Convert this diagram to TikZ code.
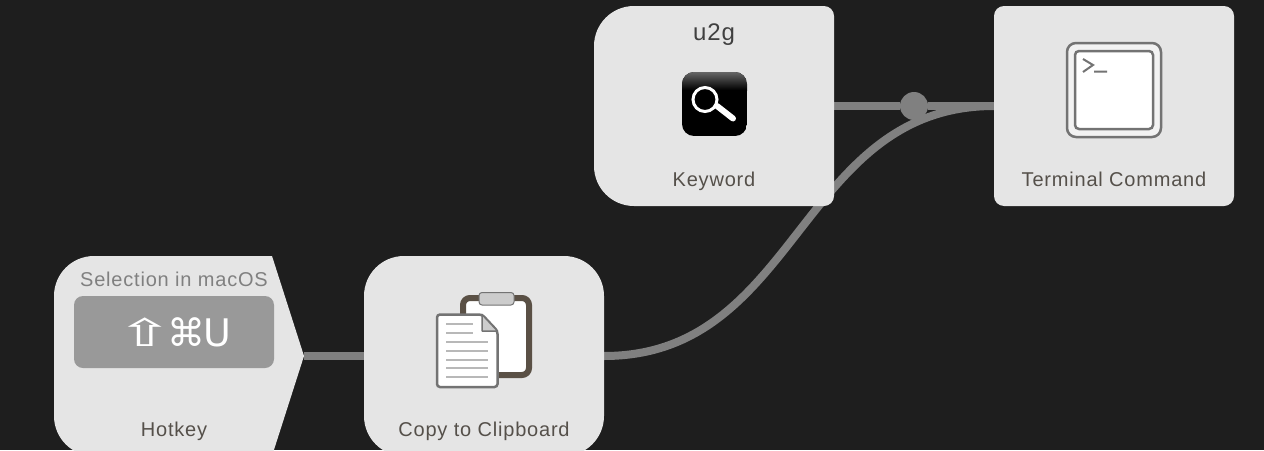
\documentclass[tikz,border=0pt]{standalone}
\usepackage{fontspec}
\setmainfont[LetterSpace=4]{Liberation Sans}
\newfontfamily\keyfont{DejaVu Sans}
\usetikzlibrary{positioning}
\definecolor{canvas}{HTML}{1E1E1E}
\definecolor{cardgray}{HTML}{E5E5E5}
\definecolor{wire}{HTML}{808080}
\definecolor{labeltext}{HTML}{55504A}
\definecolor{boardbrown}{HTML}{5A5045}
\tikzstyle{card} = [rectangle, minimum width=240pt, minimum height=200pt, inner sep=0pt, outer sep=0pt]
\tikzstyle{label} = [text=labeltext, anchor=base, font=\fontsize{20}{24}\selectfont]
\tikzstyle{wireline} = [wire, line width=8pt]
\tikzstyle{textline} = [line width=2pt, black!28]

\begin{document}
\begin{tikzpicture}[x=1pt, y=-1pt]
    \useasboundingbox (0,0) rectangle (1264,450);
    \fill [canvas] (0,0) rectangle (1264,450);
    \clip (0,0) rectangle (1264,450);

    \node (hotkey) [card, minimum width=250pt] at (179,356) {};
    \node (clipboard) [card] at (484,356) {};
    \node (keyword) [card] at (714,106) {};
    \node (terminal) [card] at (1114,106) {};
    \node (junction) [circle, fill=wire, minimum size=28pt, inner sep=0pt] at (914,106) {};

    % Verbindungen
    \draw [wireline] (hotkey.east) -- (clipboard.west);
    \draw [wireline] (keyword.east) -- (junction) -- (terminal.west);
    \draw [wireline] (clipboard.east) .. controls (799,356) and (799,106) .. (terminal.west);

    % Karten
    \fill [cardgray, rounded corners=40pt] (54,356) -- (hotkey.north west) [sharp corners] -- (272,256) -- (hotkey.east) -- (272,456) [rounded corners=40pt] -- (hotkey.south west) -- cycle;
    \fill [cardgray, rounded corners=40pt] (clipboard.north west) rectangle (clipboard.south east);
    \fill [cardgray, rounded corners=40pt] (714,6) -- (keyword.north west) -- (keyword.south west) [rounded corners=10pt] -- (keyword.south east) -- (keyword.north east) -- cycle;
    \fill [cardgray, rounded corners=10pt] (terminal.north west) rectangle (terminal.south east);

    % Hotkey
    \node (selection) [label, text=wire] at (174,286) {Selection in macOS};
    \node (keycap) [rectangle, rounded corners=9pt, fill=black!40, minimum width=200pt, minimum height=72pt, inner sep=0pt, text=white, font=\keyfont\fontsize{38}{44}\selectfont] at (174,332) {\scalebox{1.8}[1]{⇧}\kern-7pt⌘\kern-2ptU};
    \node (hotkeytext) [label] at (174,436) {Hotkey};

    % Clipboard
    \draw [boardbrown, fill=white, line width=6pt, rounded corners=7pt] (463,298) rectangle (529,375);
    \draw [black!55, fill=black!20, line width=1pt, rounded corners=3pt] (479,292.5) rectangle (514,305);
    \draw [black!55, fill=white, line width=2.5pt, rounded corners=3pt] (437,314.5) -- (482,314.5) -- (497.5,331) -- (497.5,387) -- (437,387) -- cycle;
    \draw [black!55, fill=black!20, line width=1.5pt, line join=round] (482,314.5) -- (482,331) -- (497.5,331) -- cycle;
    \foreach \y in {323.5,332.7} \draw [textline] (446,\y) -- (473,\y);
    \foreach \y in {341.7,350.7,359.5,368.3,377.3} \draw [textline] (446,\y) -- (488,\y);
    \node (copytext) [label] at (484,436) {Copy to Clipboard};

    % Keyword
    \node (title) [label, text=black!75, font=\fontsize{24}{28}\selectfont] at (714,40) {u2g};
    \begin{scope}
        \clip [rounded corners=12pt] (682,72) rectangle (747,136);
        \fill [black] (682,72) rectangle (747,136);
        \shade [top color=black!60, bottom color=black] (682,72) rectangle (747,90);
    \end{scope}
    \draw [white, line width=3pt] (705,99.5) circle (12);
    \draw [white, line width=6pt, line cap=round] (717,106) -- (733,118.5);
    \node (keywordtext) [label] at (714,186) {Keyword};

    % Terminal
    \draw [black!55, fill=black!5, line width=2.5pt, rounded corners=9pt] (1067,43) rectangle (1161,137);
    \draw [black!55, fill=white, line width=2.5pt, rounded corners=4pt] (1075,51) rectangle (1153,129);
    \draw [black!55, line width=2pt] (1083,59) -- (1093,65) -- (1083,72) (1094,71.5) -- (1107,71.5);
    \node (terminaltext) [label] at (1114,186) {Terminal Command};
\end{tikzpicture}
\end{document}
